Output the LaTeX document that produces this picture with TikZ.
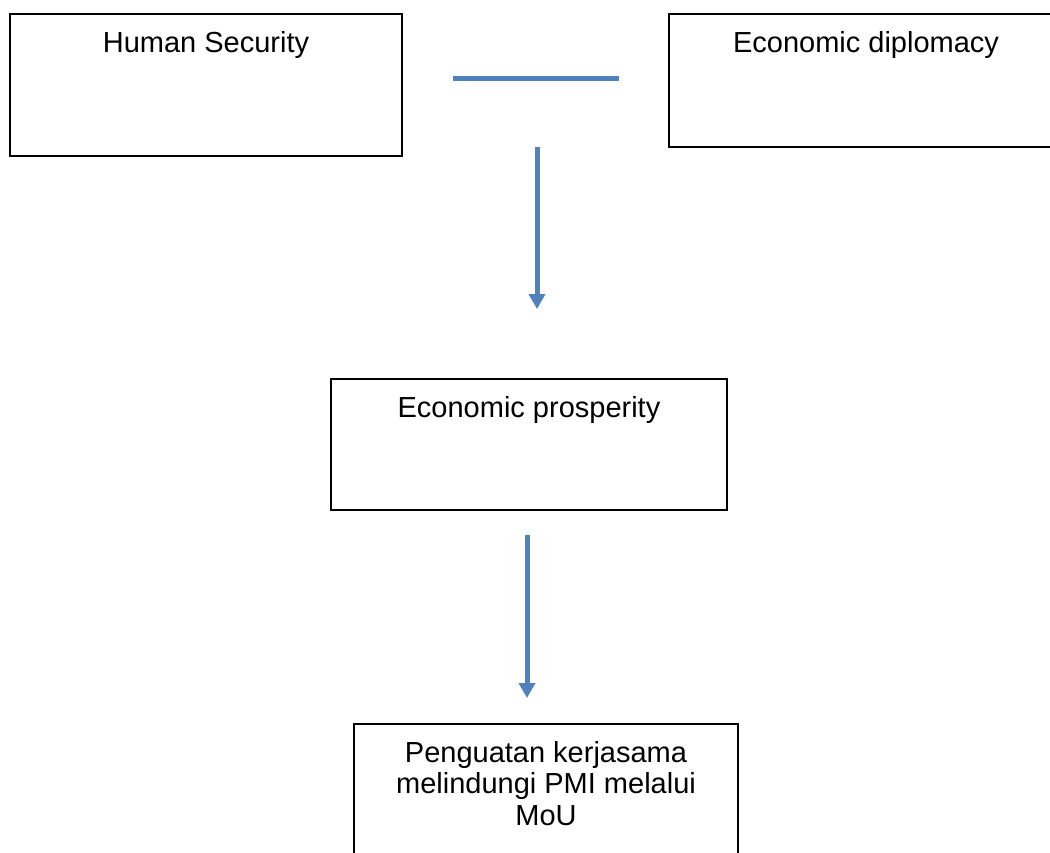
\documentclass[tikz,border=0pt]{standalone}
\usepackage{fontspec}
\setmainfont{Liberation Sans}
\usetikzlibrary{arrows.meta}
\definecolor{linkblue}{HTML}{4F81BD}
\tikzset{
  box/.style={draw=black, line width=1.3pt, rectangle, inner sep=0pt, fill=none},
  lbl/.style={inner sep=0pt, font=\fontsize{29}{31.5}\selectfont, text=black},
  link/.style={draw=linkblue, line width=5pt},
  flow/.style={link, -{Triangle[width=16pt,length=15pt]}, shorten >=0pt}
}
\begin{document}
\begin{tikzpicture}[x=1pt,y=-1pt]
\useasboundingbox (0,0) rectangle (1050,852);
\clip (0,0) rectangle (1050,852);
\fill[white] (0,0) rectangle (1050,852);
% boxes
\node[box, minimum width=392pt, minimum height=142pt] (hs) at (206,85) {};
\node[box, minimum width=394pt, minimum height=133pt] (ed) at (866,80.5) {};
\node[box, minimum width=396pt, minimum height=131pt] (ep) at (529,444.5) {};
\node[box, minimum width=384pt, minimum height=150pt] (pm) at (546,799) {};
% labels
\node[lbl, anchor=base] (hs-t) at (206,52) {Human Security};
\node[lbl, anchor=base] (ed-t) at (866,52) {Economic diplomacy};
\node[lbl, anchor=base] (ep-t) at (529,417) {Economic prosperity};
\node[lbl, anchor=north, align=center] (pm-t) at (546,741) {Penguatan kerjasama\\melindungi PMI melalui\\MoU};
% connectors
\coordinate (l1) at (453,78);
\coordinate (l2) at (619,78);
\coordinate (a1s) at (537,147);
\coordinate (a1e) at (537,309);
\coordinate (a2s) at (527,535);
\coordinate (a2e) at (527,698);
\draw[link] (l1) -- (l2);
\draw[flow] (a1s) -- (a1e);
\draw[flow] (a2s) -- (a2e);
\end{tikzpicture}
\end{document}
